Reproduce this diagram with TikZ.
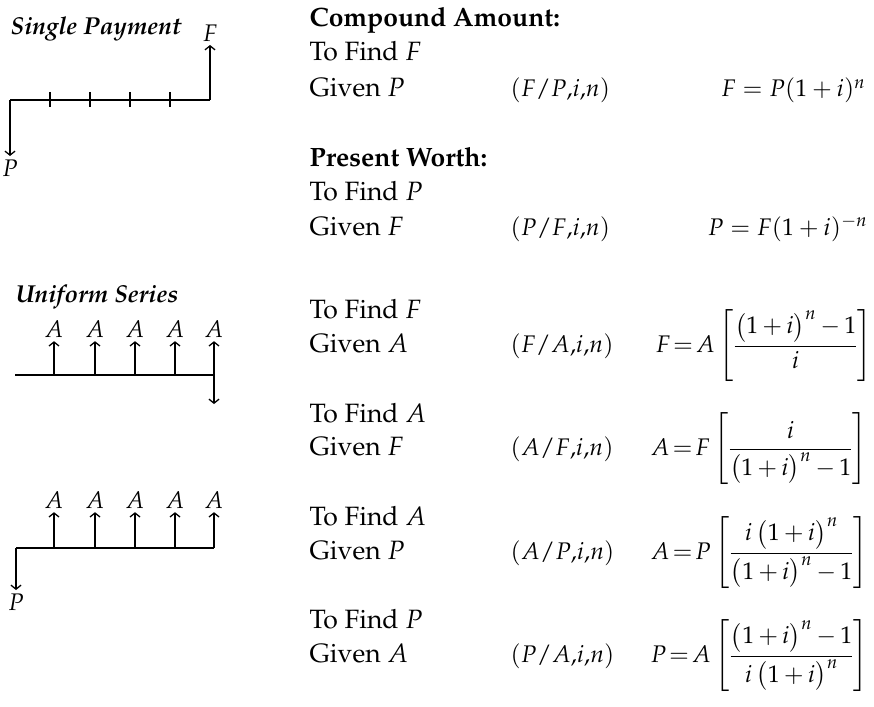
\documentclass[tikz,border=0pt]{standalone}
\usepackage[T1]{fontenc}
\usepackage{mathpazo}
\usepackage{amsmath}
\usetikzlibrary{positioning,arrows.meta}

\newcommand{\opi}{\bigl(1+i\bigr)}
\newcommand{\tightm}{\thickmuskip=2mu\relax\medmuskip=3mu\relax}

\begin{document}
\begin{tikzpicture}[
    x=1pt, y=-1pt,
    >={Straight Barb[length=4pt,width=10pt]},
    line width=1.3pt,
    every node/.style={font=\fontsize{24}{28}\selectfont},
    txt/.style={anchor=base west, inner sep=0pt, font=\fontsize{26.5}{30}\selectfont},
    head/.style={txt, font=\fontsize{26.5}{30}\selectfont\bfseries},
    title/.style={anchor=base west, inner sep=0pt,
      font=\fontsize{24.5}{28}\selectfont\bfseries\itshape},
    lbl/.style={inner sep=3pt},
    fac/.style={anchor=base west, inner sep=0pt},
    rfor/.style={anchor=base east, inner sep=0pt},
    bfor/.style={anchor=base west, inner sep=0pt}
]
  \useasboundingbox (0,0) rectangle (874,706);

  % single payment diagram
  \node[title] (sp) at (10,35) {Single Payment};
  \coordinate (s0) at (10,100);
  \coordinate (s5) at (210,100);
  \node[lbl] (sF) at (210,33) {$F$};
  \node[lbl] (sP) at (10,168) {$P$};
  \draw (s0) -- (s5);
  \foreach \x in {50,90,130,170}
    \draw (\x,92) -- (\x,107);
  \draw[->] (s5) -- (sF.south);
  \draw[->] (s0) -- (sP.north);

  % uniform series diagram (F)
  \node[title] (us) at (15,302) {Uniform Series};
  \coordinate (u0) at (15,375);
  \coordinate (u5) at (214,375);
  \coordinate (uF) at (214,404);
  \draw (u0) -- (u5);
  \foreach \x [count=\k] in {54,95,135,175,214} {
    \node[lbl] (uA\k) at (\x,329) {$A$};
    \draw[->] (\x,375) -- (uA\k.south);
  }
  \draw[->] (u5) -- (uF);

  % uniform series diagram (P)
  \coordinate (v0) at (16,548);
  \coordinate (v5) at (214,548);
  \node[lbl] (vP) at (16,602) {$P$};
  \draw (v0) -- (v5);
  \foreach \x [count=\k] in {54,95,135,175,214} {
    \node[lbl] (vA\k) at (\x,500) {$A$};
    \draw[->] (\x,548) -- (vA\k.south);
  }
  \draw[->] (v0) -- (vP.north);

  % left text column
  \node[head] (ca) at (309,27) {Compound Amount:};
  \node[txt] (ca1) at (309,61) {To Find $F$};
  \node[txt] (ca2) at (309,97) {Given $P$};
  \node[head] (pw) at (309,166) {Present Worth:};
  \node[txt] (pw1) at (309,200) {To Find $P$};
  \node[txt] (pw2) at (309,235) {Given $F$};
  \node[txt] (us1) at (309,318) {To Find $F$};
  \node[txt] (us2) at (309,352) {Given $A$};
  \node[txt] (sf1) at (309,422) {To Find $A$};
  \node[txt] (sf2) at (309,455) {Given $F$};
  \node[txt] (cr1) at (309,525) {To Find $A$};
  \node[txt] (cr2) at (309,559) {Given $P$};
  \node[txt] (pa1) at (309,628) {To Find $P$};
  \node[txt] (pa2) at (309,662) {Given $A$};

  % factor notation
  \node[fac] (caN) at (510,97) {$(F/P{,}i{,}n)$};
  \node[fac] (pwN) at (510,235) {$(P/F{,}i{,}n)$};
  \node[fac] (usN) at (510,352) {$(F/A{,}i{,}n)$};
  \node[fac] (sfN) at (510,455) {$(A/F{,}i{,}n)$};
  \node[fac] (crN) at (510,559) {$(A/P{,}i{,}n)$};
  \node[fac] (paN) at (510,662) {$(P/A{,}i{,}n)$};

  % formulas
  \node[rfor] (caE) at (866,97) {$F = P(1+i)^{n}$};
  \node[rfor] (pwE) at (868,235) {$P = F(1+i)^{-n}$};
  \node[bfor] (usE) at (655,352)
    {\tightm$F = A\left[\dfrac{\opi^{n}-1}{i}\right]$};
  \node[bfor] (sfE) at (650,455)
    {\tightm$A = F\left[\dfrac{i}{\opi^{n}-1}\right]$};
  \node[bfor] (crE) at (650,559)
    {\tightm$A = P\left[\dfrac{i\,\opi^{n}}{\opi^{n}-1}\right]$};
  \node[bfor] (paE) at (650,662)
    {\tightm$P = A\left[\dfrac{\opi^{n}-1}{i\,\opi^{n}}\right]$};
\end{tikzpicture}
\end{document}
